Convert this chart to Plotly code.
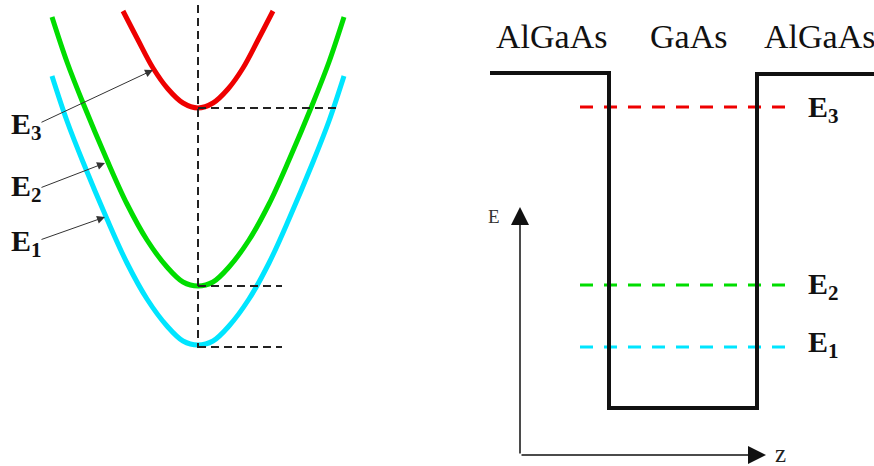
import plotly.graph_objects as go

# ---------------- data (picture units: x right, y down) ----------------
# Left panel: dispersion curves E(k)
red_k = [123, 138, 153, 168, 183, 198, 213, 228, 243, 258, 273]
red_E = [11, 40, 68, 89, 103, 108, 103, 89, 68, 40, 11]

green_k = [52, 67, 83, 107, 127, 147, 167, 183, 198, 213, 229, 249, 269, 289, 313, 329, 344]
green_E = [17, 62, 103, 160, 204, 240, 267, 282, 286, 282, 267, 240, 204, 160, 103, 62, 17]

cyan_k = [52, 67, 83, 107, 127, 147, 167, 183, 198, 213, 229, 249, 269, 289, 313, 329, 344]
cyan_E = [76, 121, 162, 219, 263, 299, 326, 341, 345, 341, 326, 299, 263, 219, 162, 121, 76]

k0 = 198                      # band minimum (k = 0)
k_axis_E = [5, 348]           # vertical dashed axis extent
level_E = [108, 286, 347]     # E3, E2, E1 minima
level_k_end = [340, 282, 282]

# Left labels with arrows
left_labels = ["E<sub>3</sub>", "E<sub>2</sub>", "E<sub>1</sub>"]
left_label_y = [126, 188, 243]
arrow_tail = [(40, 123), (40, 188), (40, 240)]
arrow_head = [(153, 70), (105, 163), (105, 217)]

# Right panel: quantum well profile
well_z = [490, 609, 609, 757, 757, 874]
well_E = [73, 73, 408, 408, 74, 74]
well_levels_E = [107, 285, 347]          # E3, E2, E1
well_levels_z = [580, 790]
well_level_colors = ["#ee0000", "#00dd00", "#00e5ff"]
right_labels = ["E<sub>3</sub>", "E<sub>2</sub>", "E<sub>1</sub>"]
right_label_y = [109, 286, 344]

region_names = ["AlGaAs", "GaAs", "AlGaAs"]
region_x = [551, 688, 819]
region_y = 36

axis_origin = (520, 455)
axis_E_tip = (520, 207)
axis_z_tip = (766, 455)

curve_colors = ["#ee0000", "#00dd00", "#00e5ff"]
SERIF = "Liberation Serif, Times New Roman, serif"

fig = go.Figure()

for kx, ey, c in [(red_k, red_E, curve_colors[0]),
                  (green_k, green_E, curve_colors[1]),
                  (cyan_k, cyan_E, curve_colors[2])]:
    fig.add_trace(go.Scatter(x=kx, y=ey, mode="lines",
                             line=dict(color=c, width=5, shape="spline", smoothing=1),
                             hoverinfo="skip"))

fig.add_trace(go.Scatter(x=[k0, k0], y=k_axis_E, mode="lines",
                         line=dict(color="#222222", width=2, dash="8px,5px"),
                         hoverinfo="skip"))
for e, kend in zip(level_E, level_k_end):
    fig.add_trace(go.Scatter(x=[k0, kend], y=[e, e], mode="lines",
                             line=dict(color="#222222", width=2, dash="8px,5px"),
                             hoverinfo="skip"))

for e, c in zip(well_levels_E, well_level_colors):
    fig.add_trace(go.Scatter(x=well_levels_z, y=[e, e], mode="lines",
                             line=dict(color=c, width=3, dash="13px,11px"),
                             hoverinfo="skip"))

fig.add_trace(go.Scatter(x=well_z, y=well_E, mode="lines",
                         line=dict(color="#111111", width=4),
                         hoverinfo="skip"))

ann = []
for lab, ly, t, h in zip(left_labels, left_label_y, arrow_tail, arrow_head):
    ann.append(dict(x=9, y=ly, text="<b>" + lab + "</b>", showarrow=False,
                    xanchor="left", yanchor="middle",
                    font=dict(family=SERIF, size=30, color="#111111")))
    ann.append(dict(x=h[0], y=h[1], ax=t[0], ay=t[1], xref="x", yref="y",
                    axref="x", ayref="y", text="", showarrow=True,
                    arrowhead=2, arrowsize=1.6, arrowwidth=1,
                    arrowcolor="#333333"))

for lab, ly in zip(right_labels, right_label_y):
    ann.append(dict(x=806, y=ly, text="<b>" + lab + "</b>", showarrow=False,
                    xanchor="left", yanchor="middle",
                    font=dict(family=SERIF, size=30, color="#111111")))

for name, rx in zip(region_names, region_x):
    ann.append(dict(x=rx, y=region_y, text=name, showarrow=False,
                    xanchor="center", yanchor="middle",
                    font=dict(family=SERIF, size=34, color="#111111")))

ann.append(dict(x=axis_E_tip[0], y=axis_E_tip[1], ax=axis_origin[0], ay=axis_origin[1],
                xref="x", yref="y", axref="x", ayref="y", text="", showarrow=True,
                arrowhead=2, arrowsize=2.4, arrowwidth=1.5, arrowcolor="#111111"))
ann.append(dict(x=axis_z_tip[0], y=axis_z_tip[1], ax=axis_origin[0], ay=axis_origin[1],
                xref="x", yref="y", axref="x", ayref="y", text="", showarrow=True,
                arrowhead=2, arrowsize=2.4, arrowwidth=1.5, arrowcolor="#111111"))
ann.append(dict(x=486, y=216, text="E", showarrow=False, xanchor="left", yanchor="middle",
                font=dict(family=SERIF, size=19, color="#333333")))
ann.append(dict(x=773, y=453, text="z", showarrow=False, xanchor="left", yanchor="middle",
                font=dict(family=SERIF, size=25, color="#222222")))

fig.update_layout(
    width=874, height=466,
    margin=dict(l=0, r=0, t=0, b=0),
    paper_bgcolor="white", plot_bgcolor="white",
    showlegend=False,
    xaxis=dict(range=[0, 874], visible=False, fixedrange=True),
    yaxis=dict(range=[466, 0], visible=False, fixedrange=True),
    annotations=ann,
)

fig.write_html("out.html")
